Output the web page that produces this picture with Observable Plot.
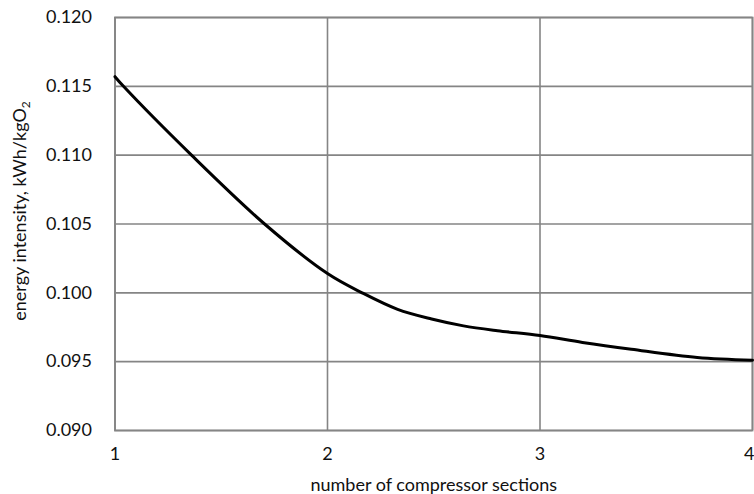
<!DOCTYPE html>
<html>
<head>
<meta charset="utf-8">
<script src="https://cdn.jsdelivr.net/npm/d3@7"></script>
<script src="https://cdn.jsdelivr.net/npm/@observablehq/plot@0.6"></script>
<style>
  html, body { margin: 0; padding: 0; background: #fff; }
  #chart svg { display: block; }
</style>
</head>
<body>
<div id="chart"></div>
<script>
const sections = [1, 1.04, 1.36, 1.704, 2, 2.163, 2.33, 2.49, 2.64, 2.8, 3, 3.2, 3.43, 3.74, 4];
const intensity = [0.1157, 0.1150, 0.1100, 0.1050, 0.1014, 0.1000, 0.0988, 0.0981, 0.0976, 0.09725, 0.0969, 0.0964, 0.0959, 0.0953, 0.0951];
const xTicks = [1, 2, 3, 4];
const yTicks = [0.090, 0.095, 0.100, 0.105, 0.110, 0.115, 0.120];
const xLabel = "number of compressor sections";
const yLabel = "energy intensity, kWh/kgO";
const yLabelSub = "2";

const data = sections.map((s, i) => ({x: s, y: intensity[i]}));
const gridColor = "#858585";
const fs = 18;
const fx = d3.format("d");
const fy = d3.format(".3f");

const chart = Plot.plot({
  width: 754,
  height: 494,
  marginLeft: 114.5,
  marginRight: 2,
  marginTop: 17,
  marginBottom: 64,
  style: {fontFamily: "Lato, 'Open Sans', sans-serif", fontSize: fs + "px", color: "#111", background: "#fff"},
  x: {domain: [1, 4], label: null},
  y: {domain: [0.090, 0.120], label: null},
  marks: [
    Plot.gridX(xTicks, {stroke: gridColor, strokeOpacity: 1, strokeWidth: 1.6}),
    Plot.gridY(yTicks, {stroke: gridColor, strokeOpacity: 1, strokeWidth: 1.6}),
    Plot.frame({stroke: gridColor, strokeWidth: 1.8}),
    Plot.axisX(xTicks.slice(0, 3), {tickSize: 0, tickPadding: 17, tickFormat: fx, label: null, fontSize: fs}),
    Plot.axisX(xTicks.slice(3), {tickSize: 0, tickPadding: 17, tickFormat: fx, label: null, fontSize: fs, textAnchor: "end", dx: 2}),
    Plot.axisY(yTicks, {tickSize: 0, tickPadding: 23, tickFormat: fy, label: null, fontSize: fs}),
    Plot.line(data, {x: "x", y: "y", stroke: "#000", strokeWidth: 3, curve: "catmull-rom"}),
    Plot.text([xLabel], {frameAnchor: "bottom", dy: 55, lineAnchor: "middle", textAnchor: "middle", text: d => d, fontSize: fs, fill: "#111"}),
    Plot.text([yLabel], {frameAnchor: "left", dx: -95, dy: -13, rotate: -90, textAnchor: "middle", lineAnchor: "middle", text: d => d, fontSize: fs, fill: "#111", className: "ylab"})
  ]
});

// add subscript as a real tspan
const yl = chart.querySelector(".ylab text");
if (yl) {
  const ts = document.createElementNS("http://www.w3.org/2000/svg", "tspan");
  ts.setAttribute("font-size", "12");
  ts.setAttribute("dy", "4");
  ts.textContent = yLabelSub;
  yl.appendChild(ts);
}
document.getElementById("chart").appendChild(chart);
</script>
</body>
</html>
